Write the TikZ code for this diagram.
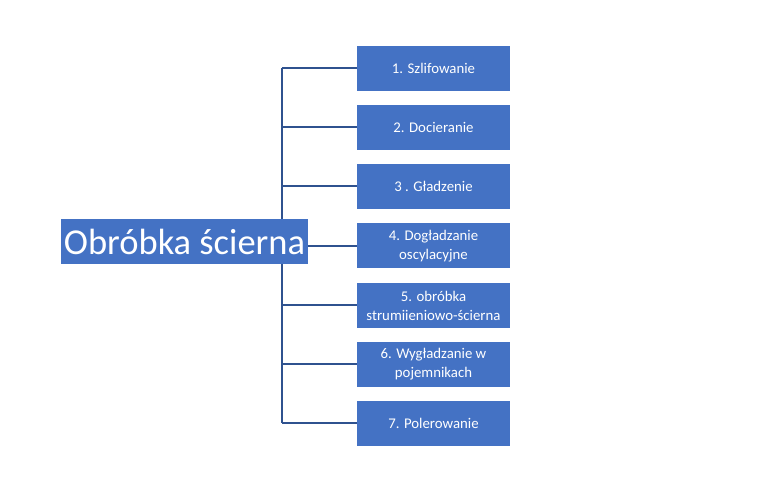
\documentclass[tikz,border=0pt]{standalone}
\usepackage{fontspec}
\setmainfont{Carlito}
\definecolor{boxblue}{HTML}{4472C4}
\definecolor{lineblue}{HTML}{2F528F}
\begin{document}
\begin{tikzpicture}[x=1pt,y=1pt,
  item/.style={fill=boxblue, text=white, minimum width=153pt, minimum height=45pt, inner sep=1pt, align=center, font=\fontsize{14.8}{19}\selectfont},
  main/.style={fill=boxblue, text=white, minimum width=247pt, minimum height=45pt, inner sep=0pt, font=\fontsize{36.5}{40}\selectfont},
  conn/.style={draw=lineblue, line width=2pt}]
\useasboundingbox (0,0) rectangle (770,494);
\node[item] (b1) at (433.5,{494-68.5}) {1. Szlifowanie};
\node[item] (b2) at (433.5,{494-127.5}) {2. Docieranie};
\node[item] (b3) at (433.5,{494-186.5}) {3 . Gładzenie};
\node[item] (b4) at (433.5,{494-246}) {4. Dogładzanie\\oscylacyjne};
\node[item] (b5) at (433.5,{494-305.5}) {5. obróbka\\strumiieniowo-ścierna};
\node[item] (b6) at (433.5,{494-364.5}) {6. Wygładzanie w\\pojemnikach};
\node[item] (b7) at (433.5,{494-423.5}) {7. Polerowanie};
\coordinate (t1) at (282,{494-68.5});
\coordinate (t7) at (282,{494-423.5});
\draw[conn] (t1) -- (t7);
\foreach \i in {1,2,3,5,6,7} {
  \draw[conn] (b\i.west -| t1) -- (b\i.west);
}
\node[main] (m) at (184.5,{494-241.5}) {Obróbka ścierna};
\draw[conn] (m.east |- b4.west) -- (b4.west);
\end{tikzpicture}
\end{document}
